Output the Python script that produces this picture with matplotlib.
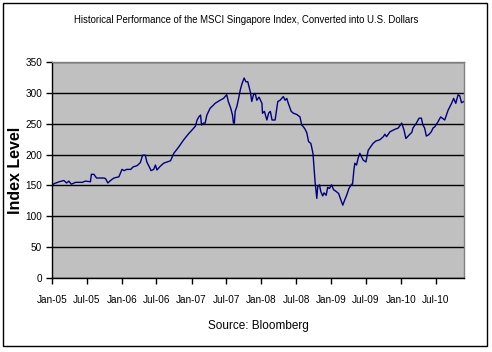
import matplotlib
matplotlib.use("Agg")
import matplotlib.pyplot as plt
import matplotlib.dates as mdates
import pandas as pd
from matplotlib.patches import Rectangle

# MSCI Singapore index in USD
dates = [
    "2005-01-03", "2005-01-13", "2005-02-08", "2005-03-04", "2005-03-18", "2005-03-30",
    "2005-04-12", "2005-05-04", "2005-06-08", "2005-06-25", "2005-07-21", "2005-07-26",
    "2005-08-08", "2005-08-22", "2005-09-30", "2005-10-08", "2005-10-20", "2005-11-03",
    "2005-11-21", "2005-12-17", "2006-01-02", "2006-01-13", "2006-01-27", "2006-02-17",
    "2006-03-01", "2006-03-22", "2006-04-08", "2006-04-20", "2006-05-04", "2006-05-12",
    "2006-05-25", "2006-06-03", "2006-06-17", "2006-06-26", "2006-07-04", "2006-07-21",
    "2006-08-08", "2006-08-26", "2006-09-13", "2006-09-30", "2006-10-25", "2006-11-21",
    "2006-12-17", "2007-01-04", "2007-01-21", "2007-01-30", "2007-02-08", "2007-02-17",
    "2007-02-22", "2007-03-04", "2007-03-13", "2007-03-22", "2007-04-08", "2007-04-25",
    "2007-05-04", "2007-05-30", "2007-06-17", "2007-07-04", "2007-07-12", "2007-07-25",
    "2007-08-03", "2007-08-08", "2007-08-13", "2007-08-17", "2007-08-26", "2007-09-04",
    "2007-09-13", "2007-09-22", "2007-10-03", "2007-10-12", "2007-10-22", "2007-11-04",
    "2007-11-12", "2007-11-21", "2007-11-30", "2007-12-08", "2007-12-20", "2008-01-04",
    "2008-01-07", "2008-01-17", "2008-01-30", "2008-02-08", "2008-02-17", "2008-02-26",
    "2008-03-13", "2008-03-18", "2008-03-27", "2008-04-08", "2008-04-25", "2008-05-04",
    "2008-05-13", "2008-05-21", "2008-06-05", "2008-06-17", "2008-07-04", "2008-07-21",
    "2008-07-30", "2008-08-08", "2008-08-17", "2008-08-26", "2008-09-04", "2008-09-16",
    "2008-09-27", "2008-10-03", "2008-10-08", "2008-10-17", "2008-10-22", "2008-10-31",
    "2008-11-07", "2008-11-17", "2008-11-24", "2008-12-05", "2008-12-13", "2008-12-22",
    "2009-01-02", "2009-01-13", "2009-01-27", "2009-02-08", "2009-02-17", "2009-03-02",
    "2009-03-09", "2009-03-22", "2009-04-03", "2009-04-17", "2009-04-22", "2009-04-29",
    "2009-05-04", "2009-05-13", "2009-05-21", "2009-05-30", "2009-06-17", "2009-07-01",
    "2009-07-13", "2009-07-27", "2009-08-07", "2009-08-22", "2009-09-12", "2009-09-30",
    "2009-10-08", "2009-10-17", "2009-11-04", "2009-11-30", "2009-12-17", "2010-01-04",
    "2010-01-16", "2010-01-26", "2010-02-13", "2010-02-26", "2010-03-04", "2010-03-22",
    "2010-04-05", "2010-04-17", "2010-04-25", "2010-05-04", "2010-05-13", "2010-05-25",
    "2010-06-08", "2010-06-17", "2010-06-26", "2010-07-13", "2010-07-27", "2010-08-17",
    "2010-09-04", "2010-09-22", "2010-10-03", "2010-10-14", "2010-10-26", "2010-11-04",
    "2010-11-13", "2010-11-25",
]
index_level = [
    151, 153, 156, 158, 154, 157,
    152, 155, 155, 157, 156, 168,
    168, 162, 162, 161, 154, 158,
    162, 164, 176, 174, 176, 176,
    180, 182, 187, 199, 199, 188,
    180, 174, 176, 183, 175, 181,
    186, 188, 190, 202, 212, 224,
    234, 240, 246, 256, 261, 264,
    248, 251, 251, 264, 275, 280,
    283, 288, 291, 297, 286, 275,
    264, 251, 251, 270, 278, 291,
    305, 315, 324, 318, 318, 302,
    286, 297, 299, 288, 293, 283,
    267, 270, 256, 267, 270, 256,
    256, 267, 286, 288, 294, 288,
    291, 283, 270, 267, 265, 261,
    248, 245, 241, 235, 221, 218,
    202, 178, 156, 129, 148, 151,
    140, 133, 138, 134, 147, 145,
    151, 143, 140, 137, 129, 118,
    124, 134, 145, 152, 152, 175,
    186, 183, 194, 202, 191, 188,
    207, 213, 218, 222, 224, 229,
    233, 229, 237, 241, 243, 251,
    240, 226, 232, 236, 243, 251,
    259, 259, 248, 243, 230, 232,
    237, 243, 245, 253, 261, 256,
    272, 283, 291, 283, 297, 295,
    284, 286,
]

title = "Historical Performance of the MSCI Singapore Index, Converted into U.S. Dollars"
x_start, x_end = "2005-01-01", "2010-11-26"

plt.rcParams["font.family"] = ["Liberation Sans", "DejaVu Sans"]

dt = pd.to_datetime(dates)

fig = plt.figure(figsize=(4.92, 3.52), dpi=100)
fig.patch.set_facecolor("white")
fig.patches.append(Rectangle((0.006, 0.017), 0.984, 0.975, transform=fig.transFigure,
                             fill=False, edgecolor="black", linewidth=1.0))

ax = fig.add_axes([0.1057, 0.2102, 0.8374, 0.6137])
ax.set_facecolor("#C0C0C0")
ax.plot(dt, index_level, color="#000080", linewidth=1.0)

ax.set_ylim(0, 350)
ax.set_yticks(range(0, 351, 50))
ax.set_xlim(pd.Timestamp(x_start), pd.Timestamp(x_end))
ax.xaxis.set_major_locator(mdates.MonthLocator(bymonth=[1, 7]))
ax.xaxis.set_major_formatter(mdates.DateFormatter("%b-%y"))

ax.grid(axis="y", color="black", linewidth=1.0)
ax.set_axisbelow(True)
for side in ["top", "right"]:
    ax.spines[side].set_color("#808080")
    ax.spines[side].set_linewidth(1.0)
for side in ["left", "bottom"]:
    ax.spines[side].set_color("black")
    ax.spines[side].set_linewidth(1.0)
ax.tick_params(axis="both", labelsize=7.2, length=4, width=1, direction="out", pad=3)
ax.tick_params(axis="x", pad=8)

ax.set_ylabel("Index Level", fontsize=11.5, fontweight="bold")
ax.yaxis.set_label_coords(-0.07, 0.5)
ax.set_xlabel("Source: Bloomberg", fontsize=8.5, labelpad=11)
fig.text(0.5, 0.943, title, ha="center", va="center", fontsize=6.9)

fig.savefig("out.png", dpi=100)
